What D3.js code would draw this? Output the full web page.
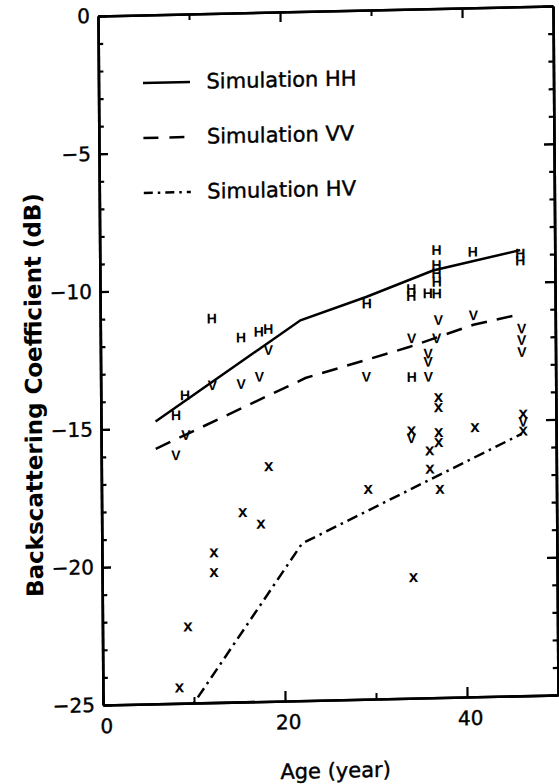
<!DOCTYPE html>
<html><head><meta charset="utf-8">
<script src="https://cdn.jsdelivr.net/npm/d3@7"></script>
<style>body{margin:0;background:#fff}svg{display:block}</style>
</head><body>
<svg id="c" width="559" height="784"></svg>
<script>
// ---- data ----
const xTicksMajor = [0, 20, 40];
const xTicksMinor = [10, 30];
const yTicksMajor = [0, -5, -10, -15, -20, -25];
const yTicksMinor = d3.range(-1, -25, -1).filter(v => v % 5 !== 0);

const legendLabels = ["Simulation HH", "Simulation VV", "Simulation HV"];

const simHH = [[6, -14.76], [22, -11.2], [29.3, -10.4], [36.6, -9.5], [46.2, -8.83]];
const simVV = [[6, -15.75], [22.5, -13.3], [34, -12.25], [41, -11.5], [46.3, -11.15]];
const simHV = [[6, -26.9], [22, -19.3], [46.2, -15.5]];

const obsHH = [[8.25, -14.54], [9.26, -13.82], [12.25, -11.06], [15.46, -11.77], [17.4, -11.58], [18.46, -11.49],
  [29.3, -10.64], [34.2, -10.15], [34.2, -10.4], [36.0, -10.32], [37.0, -10.33],
  [37.0, -8.76], [37.0, -9.3], [37.0, -9.6], [37.0, -9.91], [41.0, -8.85], [46.2, -8.95], [46.2, -9.2], [34.2, -13.34]];
const obsVV = [[8.22, -15.99], [9.33, -15.27], [12.26, -13.48], [15.42, -13.46], [17.44, -13.21], [18.45, -12.25],
  [29.2, -13.3], [34.2, -11.94], [34.1, -15.57], [36.0, -12.5], [36.0, -12.8], [36.0, -13.35], [36.96, -11.96],
  [37.15, -11.3], [41.0, -11.15], [46.3, -11.67], [46.3, -12.09], [46.3, -12.52], [46.4, -15.06]];
const obsHV = [[8.4, -24.4], [9.4, -22.2], [12.3, -19.53], [12.3, -20.25], [15.5, -18.1], [17.5, -18.53], [18.4, -16.45],
  [29.3, -17.35], [34.1, -15.27], [34.2, -20.59], [36.1, -16.01], [36.1, -16.67], [37.1, -14.08], [37.1, -14.44],
  [37.1, -15.35], [37.1, -15.71], [37.2, -17.41], [41.1, -15.2], [46.4, -14.75], [46.4, -15.36]];

// ---- layout ----
const W = 559, H = 784, plotW = 455, plotH = 689;
const x = d3.scaleLinear().domain([0, 50]).range([0, plotW]);
const y = d3.scaleLinear().domain([0, -25]).range([0, plotH]);
const FONT = "'DejaVu Sans', sans-serif";

const svg = d3.select("#c");
svg.append("rect").attr("width", W).attr("height", H).attr("fill", "#fff");
const g = svg.append("g").attr("transform", "matrix(1,-0.022,0.0073,1,98,16)");

g.append("clipPath").attr("id", "clip").append("rect").attr("width", plotW).attr("height", plotH);

function styleAxis(sel, w) {
  sel.select(".domain").attr("stroke", "#000").attr("stroke-width", 2.6);
  sel.selectAll(".tick line").attr("stroke", "#000").attr("stroke-width", w);
  sel.selectAll(".tick text").attr("fill", "#000").attr("stroke", "#000").attr("stroke-width", 0.4)
    .style("font-family", FONT).style("font-size", "20px");
}
// left
g.append("g").call(d3.axisLeft(y).tickValues(yTicksMajor).tickSizeInner(-9).tickSizeOuter(0).tickPadding(8).tickFormat(d3.format("d"))).call(s => styleAxis(s, 2.4));
g.append("g").call(d3.axisLeft(y).tickValues(yTicksMinor).tickSizeInner(-5).tickSizeOuter(0).tickFormat("")).call(s => styleAxis(s, 2.2));
// right
g.append("g").attr("transform", `translate(${plotW},0)`).call(d3.axisRight(y).tickValues(yTicksMajor).tickSizeInner(-10).tickSizeOuter(0).tickFormat("")).call(s => styleAxis(s, 2.4));
g.append("g").attr("transform", `translate(${plotW},0)`).call(d3.axisRight(y).tickValues(yTicksMinor).tickSizeInner(-5).tickSizeOuter(0).tickFormat("")).call(s => styleAxis(s, 2.2));
// top
g.append("g").call(d3.axisTop(x).tickValues([20, 40]).tickSizeInner(-10).tickSizeOuter(0).tickFormat("")).call(s => styleAxis(s, 2.2));
g.append("g").call(d3.axisTop(x).tickValues(xTicksMinor).tickSizeInner(-6).tickSizeOuter(0).tickFormat("")).call(s => styleAxis(s, 2));
// bottom
g.append("g").attr("transform", `translate(0,${plotH})`).call(d3.axisBottom(x).tickValues(xTicksMajor).tickSizeInner(-10).tickSizeOuter(0).tickPadding(14).tickFormat(d3.format("d"))).call(s => { styleAxis(s, 2.2); s.selectAll(".tick text").attr("dx", 3); });
g.append("g").attr("transform", `translate(0,${plotH})`).call(d3.axisBottom(x).tickValues(xTicksMinor).tickSizeInner(-6).tickSizeOuter(0).tickFormat("")).call(s => styleAxis(s, 2));

// axis titles
g.append("text").attr("x", x(25.5)).attr("y", plotH + 71).attr("text-anchor", "middle").attr("dominant-baseline", "central")
  .attr("stroke", "#000").attr("stroke-width", 0.4)
  .style("font-family", FONT).style("font-size", "21px").text("Age (year)");
g.append("text").attr("transform", `translate(-67,${y(-13.7)}) rotate(-90)`).attr("text-anchor", "middle").attr("dominant-baseline", "central")
  .style("font-family", FONT).style("font-size", "23px").style("font-weight", "bold").text("Backscattering Coefficient (dB)");

// simulation lines
const line = d3.line().x(d => x(d[0])).y(d => y(d[1]));
const plotG = g.append("g").attr("clip-path", "url(#clip)");
const dashes = [null, "16,10", "11,5,2.5,5"];
[simHH, simVV, simHV].forEach((s, i) => {
  plotG.append("path").datum(s).attr("d", line).attr("fill", "none").attr("stroke", "#000")
    .attr("stroke-width", 2.5).attr("stroke-dasharray", dashes[i]);
});

// observed markers
const markerSets = [[obsHH, "H", 14], [obsVV, "V", 14], [obsHV, "x", 17]];
markerSets.forEach(([pts, ch, fs]) => {
  plotG.selectAll(null).data(pts).enter().append("text")
    .attr("x", d => x(d[0])).attr("y", d => y(d[1]))
    .attr("text-anchor", "middle").attr("dominant-baseline", "central")
    .style("font-family", "'Liberation Sans', Arial, sans-serif").style("font-weight", "bold").style("font-size", fs + "px")
    .text(ch);
});

// legend
const legDash = [null, "15,11", "9,5,2.5,5"];
legendLabels.forEach((lab, i) => {
  const ly = 68 + i * 55;
  g.append("line").attr("x1", 44.5).attr("x2", 91.5).attr("y1", ly).attr("y2", ly)
    .attr("stroke", "#000").attr("stroke-width", 2.5).attr("stroke-dasharray", legDash[i]);
  g.append("text").attr("x", 108).attr("y", ly).attr("dominant-baseline", "central")
    .attr("stroke", "#000").attr("stroke-width", 0.4)
    .style("font-family", FONT).style("font-size", "21px").text(lab);
});
</script>
</body></html>
